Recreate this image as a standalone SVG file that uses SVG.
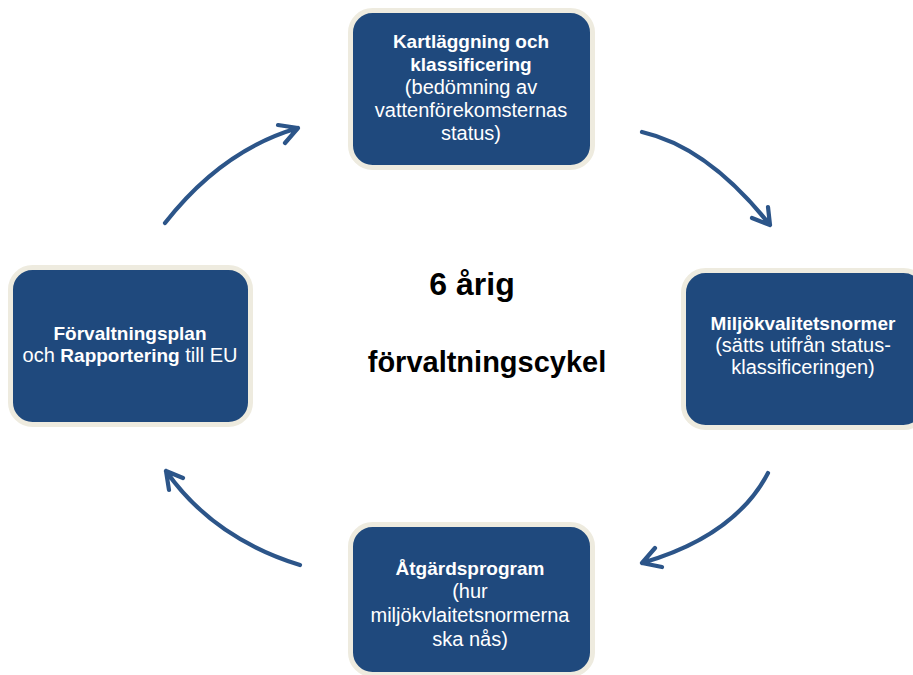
<svg xmlns="http://www.w3.org/2000/svg" width="913" height="675" viewBox="0 0 913 675">
<style>
.box{fill:#1f497d;stroke:#eeebdf;stroke-width:5}
.t{font-family:"Liberation Sans",Arial,sans-serif;fill:#ffffff;text-anchor:middle;font-size:20px}
.b{font-weight:bold;font-size:19px}
.c{font-family:"Liberation Sans",Arial,sans-serif;fill:#000000;text-anchor:middle;font-weight:bold;font-size:29px}
.big{font-size:32px}
.arr{fill:none;stroke:#2c5589;stroke-width:4.2;stroke-linecap:round;stroke-linejoin:round}
</style>
<rect width="913" height="675" fill="#ffffff"/>
<g id="connectors">
<path class="arr" d="M165,223 Q222,150 298,128 M278,125 L298,128 L285,143"/>
<path class="arr" d="M642,132 Q708,147 770,225 M752,218 L770,225 L768,207"/>
<path class="arr" d="M768,473 Q735,536 642,563 M655,548 L642,563 L662,567"/>
<path class="arr" d="M300,565 Q213,538 166,471 M183,478 L166,471 L169,490"/>
</g>
<g id="node-kartlaggning">
<rect class="box" x="350.5" y="10.5" width="242" height="157" rx="22"/>
<text class="t b" x="471" y="48">Kartläggning och</text>
<text class="t b" x="471" y="71">klassificering</text>
<text class="t" x="471" y="94">(bedömning av</text>
<text class="t" x="471" y="117">vattenförekomsternas</text>
<text class="t" x="471" y="140">status)</text>
</g>
<g id="node-miljokvalitetsnormer">
<rect class="box" x="683.5" y="270.5" width="242" height="157" rx="22"/>
<text class="t b" x="803" y="330">Miljökvalitetsnormer</text>
<text class="t" x="803" y="352">(sätts utifrån status-</text>
<text class="t" x="803" y="374">klassificeringen)</text>
</g>
<g id="node-atgardsprogram">
<rect class="box" x="350.5" y="524.5" width="242" height="150" rx="22"/>
<text class="t b" x="470" y="575">Åtgärdsprogram</text>
<text class="t" x="470" y="598">(hur</text>
<text class="t" x="470" y="622">miljökvlaitetsnormerna</text>
<text class="t" x="470" y="646">ska nås)</text>
</g>
<g id="node-forvaltningsplan">
<rect class="box" x="10.5" y="267.5" width="240" height="157" rx="22"/>
<text class="t b" x="130" y="340">Förvaltningsplan</text>
<text class="t" x="130" y="362">och <tspan class="b">Rapportering</tspan> till EU</text>
</g>
<g id="center-label">
<text class="c big" x="472" y="295">6 årig</text>
<text class="c" x="487" y="372">förvaltningscykel</text>
</g>
</svg>
